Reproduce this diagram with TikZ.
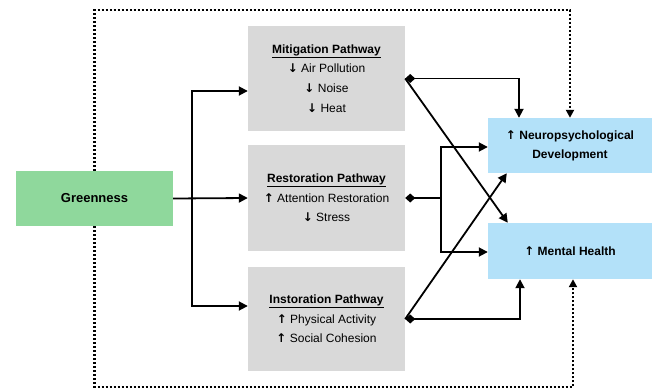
\documentclass[tikz,border=0pt]{standalone}
\usepackage{fontspec}
\setmainfont{Liberation Sans}
\newfontfamily\arrowfont{DejaVu Sans}
\newcommand{\upar}{{\arrowfont\bfseries ↑}}
\newcommand{\dnar}{{\arrowfont\bfseries ↓}}
\usetikzlibrary{arrows.meta}
\definecolor{greenfill}{HTML}{8FD89C}
\definecolor{grayfill}{HTML}{D9D9D9}
\definecolor{bluefill}{HTML}{B3E1F9}
\tikzset{
  greenbox/.style={fill=greenfill, minimum width=157pt, minimum height=55pt, inner sep=0pt, font=\fontsize{13}{15}\selectfont\bfseries},
  pathbox/.style={fill=grayfill, minimum width=157pt, inner sep=0pt, align=center, font=\fontsize{12}{19.6}\selectfont},
  outbox/.style={fill=bluefill, minimum width=164pt, inner sep=0pt, align=center, font=\fontsize{12}{19}\selectfont\bfseries},
  conn/.style={line width=1.8pt, line join=miter},
  arr/.style={conn, -{Triangle[length=9pt,width=9pt]}},
  darr/.style={conn, {Diamond[length=10pt,width=9pt]}-{Triangle[length=9pt,width=9pt]}},
  dline/.style={conn, {Diamond[length=10pt,width=9pt]}-},
  dotline/.style={line width=2.6pt, dash pattern=on 2pt off 2pt, -{Triangle[length=8pt,width=8pt]}},
}
\begin{document}
\begin{tikzpicture}[x=1pt,y=-1pt]
\useasboundingbox (0,0) rectangle (654,391);

% exposure, pathways and outcomes
\node[greenbox] (g) at (94.5,198.5) {Greenness};
\node[pathbox, minimum height=105pt] (m) at (326.5,78.5)
  {\underline{\textbf{Mitigation Pathway}}\\\dnar\ Air Pollution\\\dnar\ Noise\\\dnar\ Heat};
\node[pathbox, minimum height=106pt] (r) at (326.5,198)
  {\underline{\textbf{Restoration Pathway}}\\\upar\ Attention Restoration\\\dnar\ Stress};
\node[pathbox, minimum height=104pt] (i) at (326.5,319)
  {\underline{\textbf{Instoration Pathway}}\\\upar\ Physical Activity\\\upar\ Social Cohesion};
\node[outbox, minimum height=55pt] (n) at (570,145.5)
  {\upar\ Neuropsychological\\Development};
\node[outbox, minimum height=56pt] (mh) at (570,251) {\upar\ Mental Health};

% direct effect (dotted frame)
\coordinate (topl) at (94.5,10);
\coordinate (botl) at (94.5,387);
\draw[dotline] (g.north) -- (topl) -| (n.north);
\draw[dotline] (g.south) -- (botl) -| ([xshift=3pt]mh.south);

% greenness to the three pathways
\coordinate (split) at (192,198.5);
\draw[arr] (g.east) -- (r.west);
\draw[arr] (split) |- ([yshift=-12.5pt]m.west);
\draw[arr] (split) |- ([yshift=13pt]i.west);

% mitigation pathway to outcomes
\draw[darr] (m.east) -| ([xshift=-51pt]n.north);
\draw[arr] (m.east) -- ([xshift=20pt]mh.north west);

% restoration pathway to outcomes
\coordinate (rj) at (441,198);
\draw[dline] (r.east) -- (rj);
\draw[arr] (rj) |- ([yshift=-1.5pt]n.west);
\draw[arr] (rj) |- ([yshift=-1pt]mh.west);

% instoration pathway to outcomes
\draw[darr] (i.east) -| ([xshift=-50pt]mh.south);
\draw[arr] (i.east) -- ([xshift=19pt]n.south west);
\end{tikzpicture}
\end{document}
